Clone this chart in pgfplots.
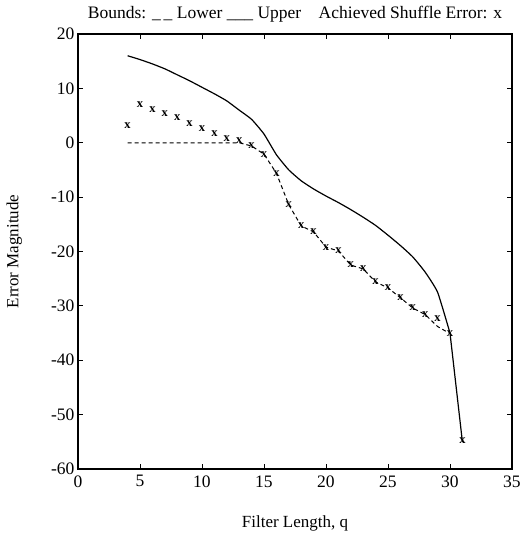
\documentclass[border=0pt]{standalone}
\usepackage{fontspec}
\setmainfont{Liberation Serif}
\usepackage{pgfplots}
\pgfplotsset{compat=1.18}
\begin{document}
\begin{tikzpicture}
\path[use as bounding box] (-78pt,-67pt) rectangle (451pt,469pt);
\begin{axis}[
  at={(0,0)}, anchor=south west,
  scale only axis,
  width=434pt, height=435pt,
  xmin=0, xmax=35, ymin=-60, ymax=20,
  xtick={0,5,...,35}, ytick={-60,-50,...,20},
  tick align=inside,
  major tick length=5pt,
  axis line style={line width=1.1pt},
  tick style={line width=0.9pt, black},
  /pgf/number format/assume math mode=true,
  ticklabel style={font=\fontsize{17.5}{19}\selectfont},
  xticklabel style={yshift=-3pt},
  xlabel={Filter Length, q},
  ylabel={Error Magnitude},
  label style={font=\fontsize{17}{19}\selectfont},
  xlabel style={at={(axis description cs:0.5,-0.124)}, anchor=center},
  ylabel style={at={(axis description cs:-0.147,0.5)}, anchor=center},
  title={Bounds: \_\,\_ Lower \_\_\_ Upper\quad Achieved Shuffle Error: x},
  every axis title/.style={font=\fontsize{17.5}{19}\selectfont, at={(axis description cs:0.5,1)}, anchor=base, yshift=16pt},
]
% upper bound
\addplot[black, line width=1.2pt, mark=none, smooth, tension=0.3] coordinates {
(4,16.0)(5,15.3)(6,14.5)(7,13.6)(8,12.5)(9,11.4)(10,10.2)(11,9.0)(12,7.7)(13,6.0)(14,4.3)(15,1.6)(16,-2.2)(17,-5.0)(18,-7.0)(19,-8.5)(20,-9.8)(21,-11.0)(22,-12.3)(23,-13.7)(24,-15.2)(25,-17.0)(26,-18.9)(27,-21.0)(28,-23.8)(29,-27.5)(30,-35.0)
};
\addplot[black, line width=1.2pt, mark=none] coordinates {(30,-35.0)(31,-55.0)};
% lower bound
\addplot[black, line width=1pt, dash pattern=on 4pt off 3pt, mark=none] coordinates {
(4,0)(5,0)(6,0)(7,0)(8,0)(9,0)(10,0)(11,0)(12,0)(13,0)(14,-0.6)(15,-2.1)(16,-5.6)(17,-11.4)(18,-15.3)(19,-16.4)(20,-19.2)(21,-19.9)(22,-22.5)(23,-23.2)(24,-25.6)(25,-26.7)(26,-28.5)(27,-30.4)(28,-31.6)(29,-33.8)(30,-35.1)
};
% achieved
\addplot[only marks, mark=text, text mark={\bfseries\fontsize{12.5}{13}\selectfont x}, text mark as node=true] coordinates {
(4,3.1)(5,7.0)(6,6.0)(7,5.3)(8,4.6)(9,3.5)(10,2.6)(11,1.7)(12,0.7)(13,0.3)(14,-0.6)(15,-2.1)(16,-5.6)(17,-11.4)(18,-15.3)(19,-16.4)(20,-19.2)(21,-19.9)(22,-22.5)(23,-23.2)(24,-25.6)(25,-26.7)(26,-28.5)(27,-30.4)(28,-31.6)(29,-32.4)(30,-35.1)(31,-54.8)
};
\end{axis}
\end{tikzpicture}
\end{document}
